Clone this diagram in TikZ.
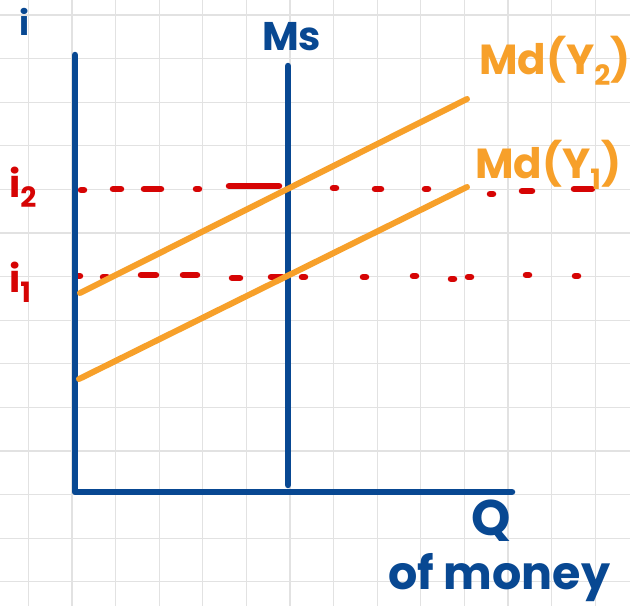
\documentclass[tikz,border=0pt]{standalone}
\usepackage{fontspec}
\setmainfont{Poppins}
\definecolor{axblue}{RGB}{8,72,146}
\definecolor{mdorange}{RGB}{247,160,42}
\definecolor{ired}{RGB}{214,4,4}
\definecolor{gridgray}{RGB}{226,226,226}
\newcommand{\lowsub}[2]{\raisebox{-0.28em}{\fontsize{#1}{#1}\selectfont #2}}
\tikzset{
  axisline/.style={draw=axblue, line width=6.5pt, line cap=round, line join=round},
  demand/.style={draw=mdorange, line width=6pt, line cap=round},
  reddash/.style={draw=ired, line width=6.5pt, line cap=round},
  gridline/.style={draw=gridgray, line width=1.3pt},
  bluelabel/.style={text=axblue, inner sep=0pt},
  orangelabel/.style={text=mdorange, inner sep=0pt},
  redlabel/.style={text=ired, inner sep=0pt},
}
\begin{document}
\begin{tikzpicture}[x=1pt,y=-1pt]
\useasboundingbox (0,0) rectangle (630,606);
\clip (0,0) rectangle (630,606);
\fill[white] (0,0) rectangle (630,606);
% grid
\foreach \k in {0,...,13} {
  \draw[gridline] ({28.4+43.6*\k},0) -- ({28.4+43.6*\k},606);
  \draw[gridline] (0,{15+43.6*\k}) -- (630,{15+43.6*\k});
}
% coordinates
\coordinate (O) at (75,492);
\coordinate (ytop) at (75,55);
\coordinate (xend) at (512,492);
\coordinate (mstop) at (288,66);
\coordinate (msbot) at (288,485);
\coordinate (d2a) at (80,293);
\coordinate (d2b) at (467,99);
\coordinate (d1a) at (79,379);
\coordinate (d1b) at (467,187);
% red dashed level lines (hand drawn)
\foreach \a/\b/\y in {81/84/190,113/121/189,144/161/189,196/199/189,229/279/186,
  333/336/188,375/381/189,425/428/189,490/493/194,522/532/191,574/592/189} {
  \draw[reddash] (\a,\y) -- (\b,\y);
}
\foreach \a/\b/\y in {77/80/276,103/107/277,141/156/275,183/197/275,232/240/278,
  271/282/277,302/305/277,363/366/277,413/416/276,451/454/279,468/471/277,526/529/275,575/578/276} {
  \draw[reddash] (\a,\y) -- (\b,\y);
}
% axes
\draw[axisline] (ytop) -- (O) -- (xend);
\draw[axisline] (mstop) -- (msbot);
% demand curves
\draw[demand] (d2a) -- (d2b);
\draw[demand] (d1a) -- (d1b);
% labels
\node[bluelabel, font=\bfseries\fontsize{34}{34}\selectfont] (ilab) at (25,22) {i};
\node[bluelabel, font=\bfseries\fontsize{40}{40}\selectfont, anchor=base west] (mslab) at (262,50) {Ms};
\node[orangelabel, font=\bfseries\fontsize{42}{42}\selectfont, anchor=base west] (md2lab) at (479,74) {Md(Y\lowsub{28}{2})};
\node[orangelabel, font=\bfseries\fontsize{42}{42}\selectfont, anchor=base west] (md1lab) at (475,178) {Md(Y\lowsub{28}{1})};
\node[redlabel, font=\bfseries\fontsize{38}{38}\selectfont, anchor=base west] (i2lab) at (9,197) {i\lowsub{28}{2}};
\node[redlabel, font=\bfseries\fontsize{38}{38}\selectfont, anchor=base west] (i1lab) at (9,292) {i\lowsub{28}{1}};
\node[bluelabel, font=\bfseries\fontsize{50}{50}\selectfont] (qlab) at (491,521) {Q};
\node[bluelabel, font=\bfseries\fontsize{46}{46}\selectfont, anchor=base west] (moneylab) at (388,589) {of money};
\end{tikzpicture}
\end{document}
